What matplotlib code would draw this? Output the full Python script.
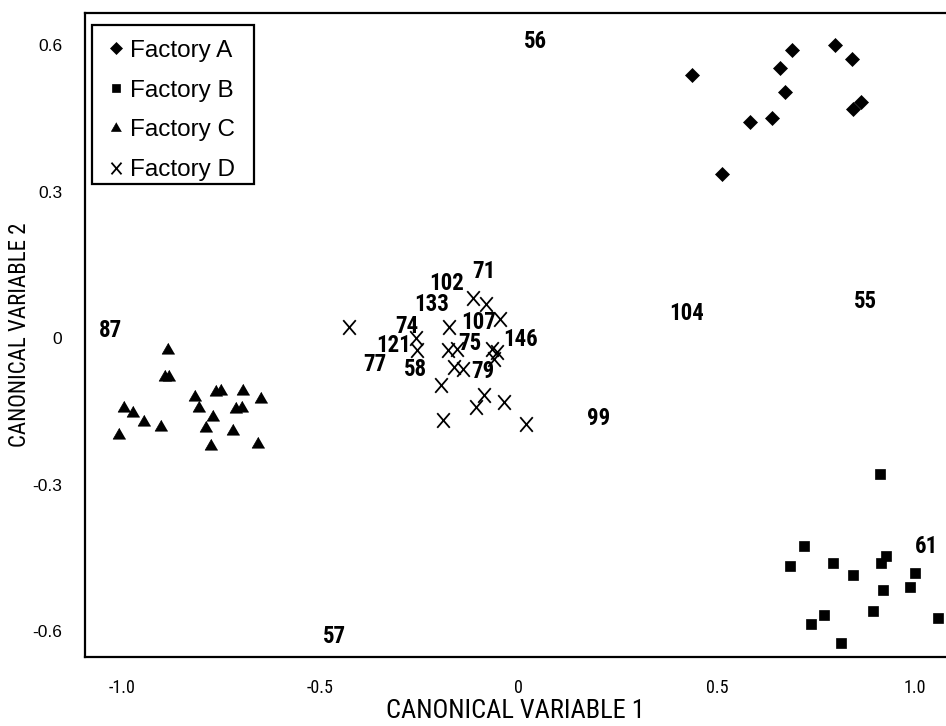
import matplotlib
matplotlib.use("Agg")
import matplotlib.pyplot as plt
from matplotlib.path import Path
from matplotlib.patches import Rectangle

# Canonical discriminant scores, one array pair per factory
a_x = [0.437, 0.689, 0.798, 0.840, 0.660, 0.672, 0.639, 0.584, 0.512, 0.844, 0.864]
a_y = [0.539, 0.590, 0.601, 0.571, 0.554, 0.504, 0.451, 0.442, 0.336, 0.469, 0.484]

b_x = [0.912, 0.720, 0.684, 0.793, 0.843, 0.913, 0.927, 1.001, 0.988, 0.919,
       0.895, 0.770, 0.738, 0.812, 1.057]
b_y = [-0.279, -0.425, -0.467, -0.461, -0.486, -0.461, -0.446, -0.480, -0.509, -0.516,
       -0.558, -0.567, -0.586, -0.625, -0.574]

c_x = [-0.885, -0.891, -0.882, -0.994, -0.971, -0.944, -1.008, -0.902, -0.815, -0.806,
       -0.764, -0.750, -0.694, -0.649, -0.771, -0.713, -0.698, -0.789, -0.721, -0.776,
       -0.658]
c_y = [-0.025, -0.080, -0.080, -0.142, -0.154, -0.171, -0.199, -0.182, -0.120, -0.142,
       -0.111, -0.109, -0.108, -0.125, -0.161, -0.145, -0.144, -0.183, -0.190, -0.221,
       -0.216]

d_x = [-0.427, -0.114, -0.083, -0.047, -0.175, -0.259, -0.257, -0.177, -0.156, -0.068,
       -0.055, -0.062, -0.162, -0.141, -0.196, -0.087, -0.108, -0.036, -0.190, 0.019]
d_y = [0.022, 0.083, 0.071, 0.039, 0.022, 0.001, -0.025, -0.025, -0.023, -0.023,
       -0.028, -0.042, -0.059, -0.064, -0.096, -0.117, -0.141, -0.130, -0.168, -0.176]

# observation numbers written on the plot
obs_ids = ["56", "102", "71", "133", "107", "74", "121", "75", "146", "77", "58", "79",
           "104", "55", "99", "87", "61", "57"]
obs_x = [0.042, -0.181, -0.087, -0.219, -0.101, -0.282, -0.316, -0.122, 0.006, -0.362,
         -0.259, -0.089, 0.424, 0.876, 0.201, -1.030, 1.030, -0.463]
obs_y = [0.608, 0.111, 0.136, 0.068, 0.033, 0.023, -0.014, -0.010, -0.003, -0.053,
         -0.064, -0.069, 0.051, 0.076, -0.164, 0.016, -0.427, -0.610]

x_ticks = [-1.0, -0.5, 0.0, 0.5, 1.0]
x_ticklabels = ["-1.0", "-0.5", "0", "0.5", "1.0"]
y_ticks = [0.6, 0.3, 0.0, -0.3, -0.6]
y_ticklabels = ["0.6", "0.3", "0", "-0.3", "-0.6"]

regular = ["Liberation Sans", "DejaVu Sans"]
narrow = ["Liberation Sans Narrow", "Roboto Condensed", "Roboto", "DejaVu Sans"]

fig = plt.figure(figsize=(9.46, 7.26), dpi=100)
ax = fig.add_axes([0.0899, 0.0950, 0.9101, 0.8871])

triangle = [(0, 0.577), (-0.5, -0.289), (0.5, -0.289)]
cross = Path([(-0.43, -0.5), (0.43, 0.5), (-0.43, 0.5), (0.43, -0.5)],
             [Path.MOVETO, Path.LINETO, Path.MOVETO, Path.LINETO])

ax.plot(a_x, a_y, ls="none", marker="D", ms=7.4, color="black", mew=0.5, label="Factory A")
ax.plot(b_x, b_y, ls="none", marker="s", ms=7.4, color="black", mew=0.5, label="Factory B")
ax.plot(c_x, c_y, ls="none", marker=triangle, ms=10.5, color="black", mew=0.5, label="Factory C")
ax.plot(d_x, d_y, ls="none", marker=cross, ms=10.5, color="black", mew=1.3,
        fillstyle="none", label="Factory D")

for t, x, y in zip(obs_ids, obs_x, obs_y):
    ax.text(x, y, t, ha="center", va="center", fontsize=16.5, fontweight="bold",
            family=narrow, color="black")

ax.set_xlim(-1.093, 1.078)
ax.set_ylim(-0.653, 0.666)

ax.set_xticks(x_ticks)
ax.set_xticklabels(x_ticklabels, family=narrow, fontsize=13)
ax.set_yticks(y_ticks)
ax.set_yticklabels(y_ticklabels, family=regular, fontsize=12.5)
ax.tick_params(axis="y", length=0, pad=16.5)
ax.tick_params(axis="x", length=0, pad=16)

for side in ["left", "top", "bottom"]:
    ax.spines[side].set_linewidth(1.6)
    ax.spines[side].set_color("black")
ax.spines["right"].set_visible(False)

ax.set_xlabel("CANONICAL VARIABLE 1", family=narrow, fontsize=19, labelpad=1)
ax.set_ylabel("CANONICAL VARIABLE 2", family=narrow, fontsize=16.5, labelpad=1)

# legend box drawn separately so its size can be set directly
ax.add_patch(Rectangle((0.0081, 0.7345), 0.1882, 0.2469, transform=ax.transAxes,
                       facecolor="white", edgecolor="black", lw=1.6, zorder=4))
leg = ax.legend(loc="upper left", bbox_to_anchor=(0.0081, 0.981), borderaxespad=0,
                frameon=False, markerscale=0.8,
                prop={"family": regular, "size": 17.5}, handlelength=0.75,
                handletextpad=0.22, labelspacing=0.73, borderpad=0.6)
leg.set_zorder(5)

fig.savefig("out.png", dpi=100)
